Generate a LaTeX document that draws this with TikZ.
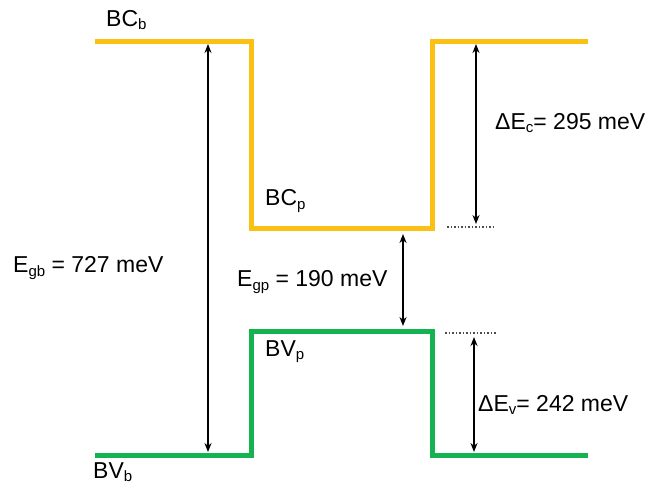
\documentclass[tikz,border=0pt]{standalone}
\usepackage{fontspec}
\setmainfont{Liberation Sans}
\usetikzlibrary{arrows.meta}

\definecolor{bandyellow}{RGB}{250,192,20}
\definecolor{bandgreen}{RGB}{20,178,80}
\newcommand{\bandsub}[1]{\raisebox{-0.14em}{\fontsize{15}{15}\selectfont #1}}

\tikzset{
  band/.style={line width=5pt, line join=miter},
  gaparrow/.style={{Stealth[length=9pt,width=7pt]}-{Stealth[length=9pt,width=7pt]}, line width=2pt},
  levelmark/.style={dotted, line width=1.5pt, black!70},
  bandlabel/.style={anchor=west, inner sep=0pt}
}

\begin{document}
\begin{tikzpicture}[x=1pt,y=-1pt,line width=0.4pt,font=\fontsize{23}{27}\selectfont]
  \useasboundingbox (0,0) rectangle (652,490);

  \def\xl{95} \def\xa{251} \def\xb{432} \def\xr{588}
  \def\ycb{41} \def\ycp{228} \def\yvp{331} \def\yvb{455}

  % --- conduction band (yellow) ---
  \draw[band,bandyellow] (\xl,\ycb) -- (\xa,\ycb) -- (\xa,\ycp) -- (\xb,\ycp) -- (\xb,\ycb) -- (\xr,\ycb);

  % --- valence band (green) ---
  \draw[band,bandgreen] (\xl,\yvb) -- (\xa,\yvb) -- (\xa,\yvp) -- (\xb,\yvp) -- (\xb,\yvb) -- (\xr,\yvb);

  % --- dotted level marks to the right of the well ---
  \coordinate (cmark1) at (447,227);
  \coordinate (cmark2) at (496,227);
  \coordinate (vmark1) at (445,333);
  \coordinate (vmark2) at (496,333);
  \draw[levelmark] (cmark1) -- (cmark2);
  \draw[levelmark] (vmark1) -- (vmark2);

  % --- gap arrows ---
  \foreach \name/\x/\ya/\yb in {gb/208/44/452, dc/476/44/224, gp/403/234/326, dv/474/337/452} {
    \coordinate (\name1) at (\x,\ya);
    \coordinate (\name2) at (\x,\yb);
    \draw[gaparrow] (\name1) -- (\name2);
  }

  % --- labels ---
  \node[bandlabel] (bcb) at (106,20)  {BC\bandsub{b}};
  \node[bandlabel] (bvb) at (93,472)  {BV\bandsub{b}};
  \node[bandlabel] (bcp) at (265,201) {BC\bandsub{p}};
  \node[bandlabel] (bvp) at (265,352) {BV\bandsub{p}};
  \node[bandlabel] (egb) at (13,268)  {E\bandsub{gb} = 727 meV};
  \node[bandlabel] (egp) at (237,282) {E\bandsub{gp} = 190 meV};
  \node[bandlabel] (dec) at (495,123) {ΔE\bandsub{c}= 295 meV};
  \node[bandlabel] (dev) at (478,405) {ΔE\bandsub{v}= 242 meV};

\end{tikzpicture}
\end{document}
